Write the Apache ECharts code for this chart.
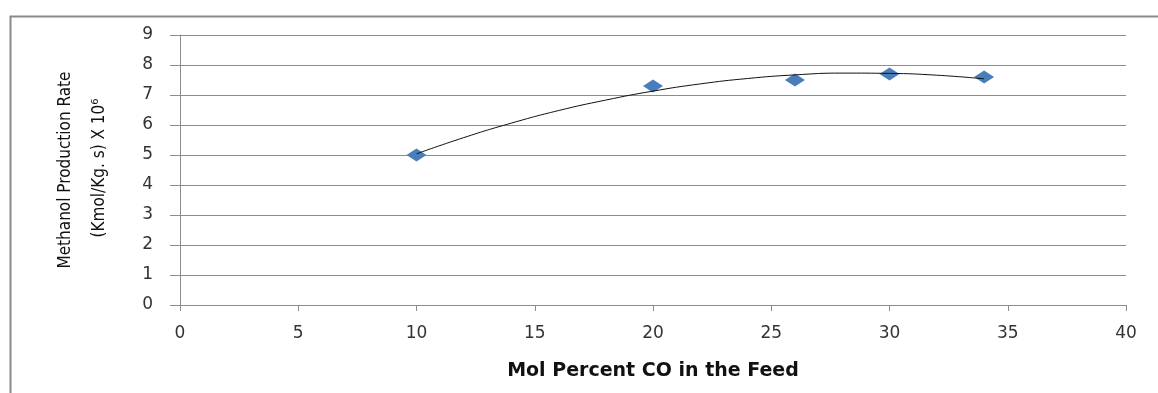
<!DOCTYPE html>
<html>
<head>
<meta charset="utf-8">
<script src="https://cdn.jsdelivr.net/npm/echarts@6/dist/echarts.min.js"></script>
<style>
html,body{margin:0;padding:0;background:#fff;}
#chart{width:1158px;height:393px;}
</style>
</head>
<body>
<div id="chart"></div>
<script>
// Measured points (Mol % CO, rate x 10^6)
const molPercentCO = [10, 20, 26, 30, 34];
const productionRate = [5.0, 7.3, 7.5, 7.7, 7.6];

// Trendline
const trendX = [10, 12, 14, 16, 18, 20, 22, 24, 26, 28, 30, 32, 34];
const trendY = [5.04, 5.58, 6.06, 6.48, 6.83, 7.13, 7.37, 7.55, 7.67, 7.73, 7.72, 7.66, 7.54];

const xTitle = 'Mol Percent CO in the Feed';
const yTitleLine1 = 'Methanol Production Rate';
const yTitleLine2 = '(Kmol/Kg. s) X 10⁶';

const chart = echarts.init(document.getElementById('chart'), null, {renderer: 'canvas'});

const gridColor = '#8c8c8c';
const labelStyle = {color: '#333', fontFamily: 'DejaVu Sans', fontSize: 17};

chart.setOption({
  animation: false,
  backgroundColor: '#fff',
  grid: {left: 180, right: 32, top: 35, bottom: 88, containLabel: false},
  xAxis: {
    type: 'value', min: 0, max: 40, interval: 5,
    axisLine: {show: true, onZero: false, lineStyle: {color: gridColor, width: 1}},
    axisTick: {show: true, length: 6, lineStyle: {color: gridColor}},
    axisLabel: Object.assign({margin: 20}, labelStyle),
    splitLine: {show: false},
    name: xTitle, nameLocation: 'middle', nameGap: 57,
    nameTextStyle: {color: '#111', fontFamily: 'DejaVu Sans', fontWeight: 'bold', fontSize: 19}
  },
  yAxis: {
    type: 'value', min: 0, max: 9, interval: 1,
    axisLine: {show: true, lineStyle: {color: gridColor, width: 1}},
    axisTick: {show: true, length: 10, lineStyle: {color: gridColor}},
    axisLabel: Object.assign({margin: 27}, labelStyle),
    splitLine: {show: true, lineStyle: {color: gridColor, width: 1}}
  },
  graphic: [
    {type: 'rect', left: 8, top: 14, shape: {x: 0, y: 0, width: 1300, height: 500},
     style: {fill: 'none', stroke: '#8a8a8a', lineWidth: 2}, silent: true, z: -1},
    {type: 'text', x: 66, y: 170, rotation: Math.PI / 2,
     style: {text: yTitleLine1, fill: '#111', font: '17px "Liberation Sans Narrow", "DejaVu Sans Condensed", sans-serif', align: 'center', verticalAlign: 'middle'}},
    {type: 'text', x: 100, y: 168, rotation: Math.PI / 2,
     style: {text: yTitleLine2, fill: '#111', font: '17px "Liberation Sans Narrow", "DejaVu Sans Condensed", sans-serif', align: 'center', verticalAlign: 'middle'}}
  ],
  series: [
    {
      type: 'line', data: trendX.map((x, i) => [x, trendY[i]]),
      smooth: true, showSymbol: false, symbol: 'none',
      lineStyle: {color: '#111', width: 1}, z: 3, silent: true
    },
    {
      type: 'scatter', data: molPercentCO.map((x, i) => [x, productionRate[i]]),
      symbol: 'diamond', symbolSize: [20, 13],
      itemStyle: {color: '#4A7EBB', opacity: 1}, z: 2
    }
  ]
});
</script>
</body>
</html>
